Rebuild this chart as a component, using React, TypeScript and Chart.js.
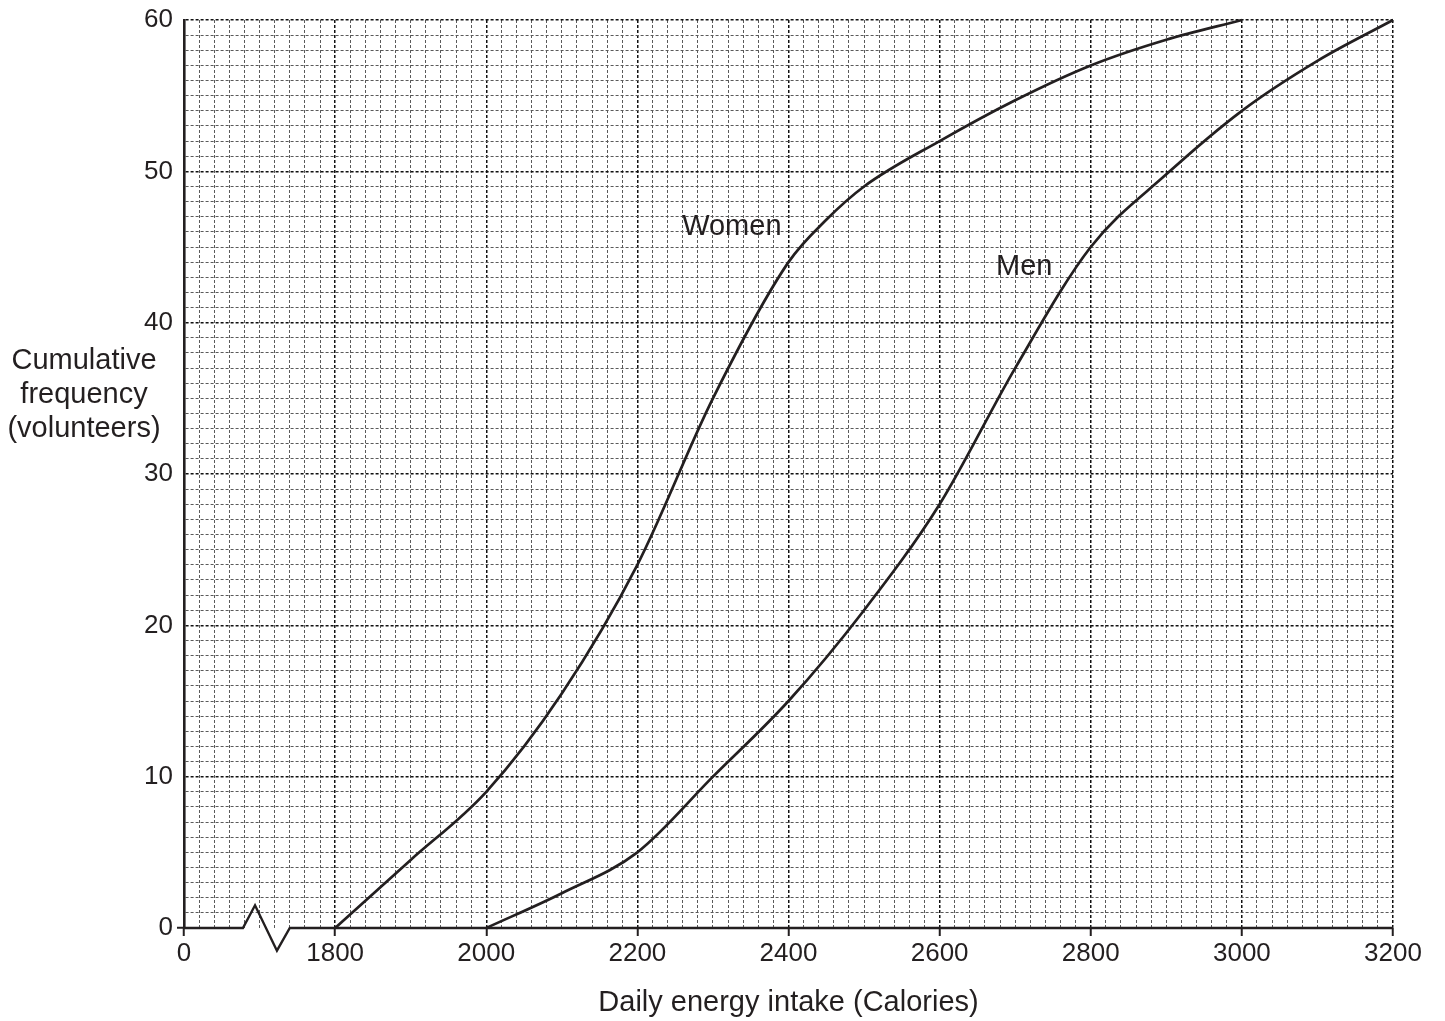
import React, { useEffect, useRef } from 'react';
import { Chart, registerables } from 'chart.js';

Chart.register(...registerables);

// Data (x: Calories, y: cumulative frequency)
const womenEnergy = [1800, 1900, 2000, 2100, 2200, 2300, 2400, 2450, 2500, 2600, 2700, 2800, 2900, 3000];
const womenCF = [0, 4.5, 9, 15.5, 24, 35, 44, 46.8, 49, 52, 54.7, 57, 58.7, 60];
const menEnergy = [2000, 2100, 2200, 2300, 2400, 2500, 2600, 2700, 2800, 2900, 3000, 3100, 3200];
const menCF = [0, 2.3, 5, 10, 15, 21, 28, 37, 45, 49.8, 54, 57.3, 60];

const xTickValues = [1600, 1800, 2000, 2200, 2400, 2600, 2800, 3000, 3200];
const xTickLabels = ['0', '1800', '2000', '2200', '2400', '2600', '2800', '3000', '3200'];
const yTickLabels = ['0', '10', '20', '30', '40', '50', '60'];

const seriesLabels = [
  { text: 'Women', x: 2325, y: 46.3 },
  { text: 'Men', x: 2712, y: 43.7 },
];
// axis break zig-zag (data units)
const breakPoints: [number, number][] = [
  [1678, 0],
  [1694, 1.5],
  [1723, -1.5],
  [1740, 0],
];

const FONT = '"Liberation Sans", Arial, Helvetica, sans-serif';
const INK = '#231f20';

export default function App() {
  const ref = useRef<HTMLCanvasElement | null>(null);

  useEffect(() => {
    document.body.style.margin = '0';
    const canvas = ref.current;
    if (!canvas) return;

    const decor = {
      id: 'decor',
      afterDraw(chart: any) {
        const { ctx, scales } = chart;
        const x = scales.x;
        const y = scales.y;
        ctx.save();
        // x axis line with break
        ctx.strokeStyle = INK;
        ctx.lineWidth = 2.4;
        ctx.lineJoin = 'miter';
        const y0 = y.getPixelForValue(0);
        ctx.beginPath();
        ctx.moveTo(x.left, y0);
        breakPoints.forEach(([bx, by]) => ctx.lineTo(x.getPixelForValue(bx), y.getPixelForValue(by)));
        ctx.lineTo(x.right, y0);
        ctx.stroke();

        ctx.fillStyle = INK;
        // series labels
        ctx.font = `29px ${FONT}`;
        ctx.textAlign = 'center';
        ctx.textBaseline = 'middle';
        seriesLabels.forEach((l) => {
          ctx.fillText(l.text, x.getPixelForValue(l.x), y.getPixelForValue(l.y));
        });

        // y title
        ctx.font = `29px ${FONT}`;
        ctx.textBaseline = 'alphabetic';
        const midY = (y.top + y.bottom) / 2;
        ['Cumulative', 'frequency', '(volunteers)'].forEach((t, i) => {
          ctx.fillText(t, 84, midY - 105 + i * 34);
        });

        // x title
        ctx.fillText('Daily energy intake (Calories)', (x.left + x.right) / 2, y.bottom + 83);
        ctx.restore();
      },
    };

    const chart = new Chart(canvas, {
      type: 'line',
      data: {
        datasets: [
          {
            label: 'Women',
            data: womenEnergy.map((e, i) => ({ x: e, y: womenCF[i] })),
            borderColor: INK,
            borderWidth: 2.7,
            pointRadius: 0,
            cubicInterpolationMode: 'monotone',
            clip: 6,
          },
          {
            label: 'Men',
            data: menEnergy.map((e, i) => ({ x: e, y: menCF[i] })),
            borderColor: INK,
            borderWidth: 2.7,
            pointRadius: 0,
            cubicInterpolationMode: 'monotone',
            clip: 6,
          },
        ],
      },
      options: {
        responsive: false,
        animation: false,
        events: [],
        layout: { padding: { top: 20, right: 52, left: 0, bottom: 0 } },
        plugins: { legend: { display: false }, tooltip: { enabled: false } },
        scales: {
          x: {
            type: 'linear',
            min: 1600,
            max: 3200,
            afterFit: (s: any) => {
              s.height = 93;
            },
            afterBuildTicks: (s: any) => {
              const t = [];
              for (let v = 1600; v <= 3200; v += 20) t.push({ value: v });
              s.ticks = t;
            },
            ticks: {
              autoSkip: false,
              maxRotation: 0,
              padding: 2,
              color: INK,
              font: { family: FONT, size: 26 },
              callback: (v: any) => {
                const i = xTickValues.indexOf(Number(v));
                return i >= 0 ? xTickLabels[i] : '';
              },
            },
            grid: {
              color: (c: any) => {
                const v = c.tick ? c.tick.value : 0;
                if (v === 1600) return 'rgba(0,0,0,0)';
                return v % 200 === 0 ? '#111111' : '#5a5a5a';
              },
              lineWidth: (c: any) => {
                const v = c.tick ? c.tick.value : 0;
                return v % 200 === 0 ? 1.5 : 1;
              },
              drawTicks: true,
              tickLength: 8,
              tickColor: INK,
              tickWidth: (c: any) => {
                const v = c.tick ? c.tick.value : 0;
                return v % 200 === 0 ? 2 : 0;
              },
              tickBorderDash: [],
            },
            border: { display: false, dash: [3, 2] },
          },
          y: {
            type: 'linear',
            min: 0,
            max: 60,
            afterFit: (s: any) => {
              s.width = 184;
            },
            afterBuildTicks: (s: any) => {
              const t = [];
              for (let v = 0; v <= 60; v += 1) t.push({ value: v });
              s.ticks = t;
            },
            ticks: {
              autoSkip: false,
              padding: 4,
              color: INK,
              font: { family: FONT, size: 26 },
              callback: (v: any) => {
                const n = Number(v);
                return n % 10 === 0 ? yTickLabels[n / 10] : '';
              },
            },
            grid: {
              color: (c: any) => {
                const v = c.tick ? c.tick.value : 0;
                if (v === 0) return 'rgba(0,0,0,0)';
                return v % 10 === 0 ? '#111111' : '#5a5a5a';
              },
              lineWidth: (c: any) => {
                const v = c.tick ? c.tick.value : 0;
                return v % 10 === 0 ? 1.5 : 1;
              },
              drawTicks: true,
              tickLength: 7,
              tickColor: INK,
              tickWidth: (c: any) => {
                const v = c.tick ? c.tick.value : 0;
                return v === 0 ? 2 : 0;
              },
              tickBorderDash: [],
            },
            border: { display: true, color: INK, width: 2.6, dash: [3, 2] },
          },
        },
      },
      plugins: [decor],
    } as any);

    return () => chart.destroy();
  }, []);

  return (
    <div style={{ width: 1445, height: 1021, background: '#fff' }}>
      <canvas ref={ref} width={1445} height={1021} style={{ display: 'block', width: 1445, height: 1021 }} />
    </div>
  );
}
